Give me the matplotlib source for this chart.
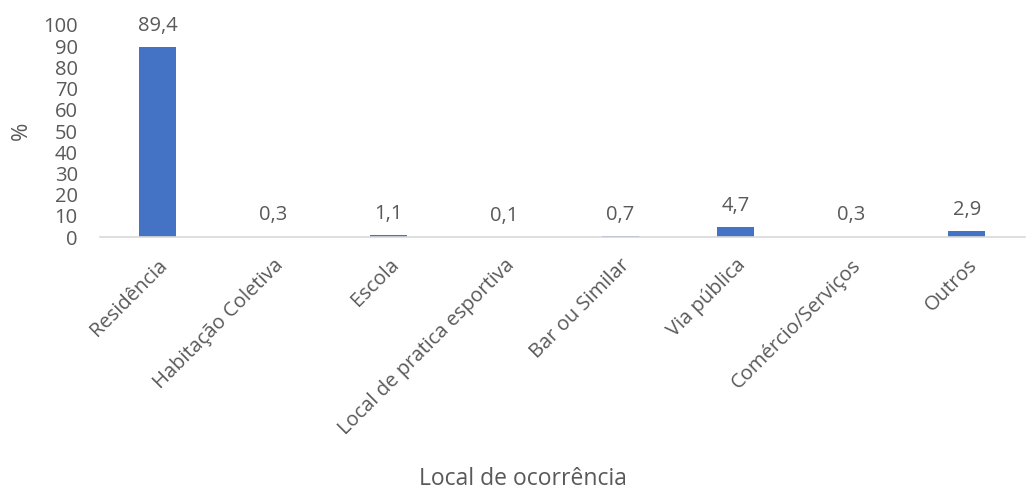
import matplotlib
matplotlib.use("Agg")
import matplotlib.pyplot as plt

# dados
locais = ["Residência", "Habitação Coletiva", "Escola", "Local de pratica esportiva",
          "Bar ou Similar", "Via pública", "Comércio/Serviços", "Outros"]
percentuais = [89.4, 0.3, 1.1, 0.1, 0.7, 4.7, 0.3, 2.9]
yticks = [0, 10, 20, 30, 40, 50, 60, 70, 80, 90, 100]

cor_texto = "#595959"
plt.rcParams["font.family"] = ["Open Sans", "DejaVu Sans"]

fig = plt.figure(figsize=(10.36, 4.9), dpi=100)
ax = fig.add_axes([0.0965, 0.516, 0.8925, 0.433])

x = range(len(locais))
barras = ax.bar(x, percentuais, width=0.32, color="#4472C4")
for xi, v in zip(x, percentuais):
    ax.annotate(f"{v:.1f}".replace(".", ","), (xi, v), xytext=(0, 8),
                textcoords="offset points", ha="center", va="bottom",
                fontsize=14.5, color=cor_texto)

ax.set_xlim(-0.5, len(locais) - 0.5)
ax.set_ylim(0, 100)
ax.set_yticks(yticks)
ax.set_yticklabels([str(t) for t in yticks], fontsize=14.5, color=cor_texto)
ax.set_xticks(list(x))
ax.set_xticklabels(locais, rotation=45, ha="right", rotation_mode="anchor",
                   fontsize=14.5, color=cor_texto)
ax.tick_params(axis="y", length=0, pad=16)
ax.tick_params(axis="x", length=0, pad=13)

for s in ["top", "right", "left"]:
    ax.spines[s].set_visible(False)
ax.spines["bottom"].set_color("#D9D9D9")
ax.spines["bottom"].set_linewidth(1.2)

ax.set_ylabel("%", fontsize=16, color=cor_texto, labelpad=8)
fig.text(0.505, 0.022, "Local de ocorrência", ha="center", va="center",
         fontsize=16.5, color=cor_texto)

plt.savefig("out.png", dpi=100)
